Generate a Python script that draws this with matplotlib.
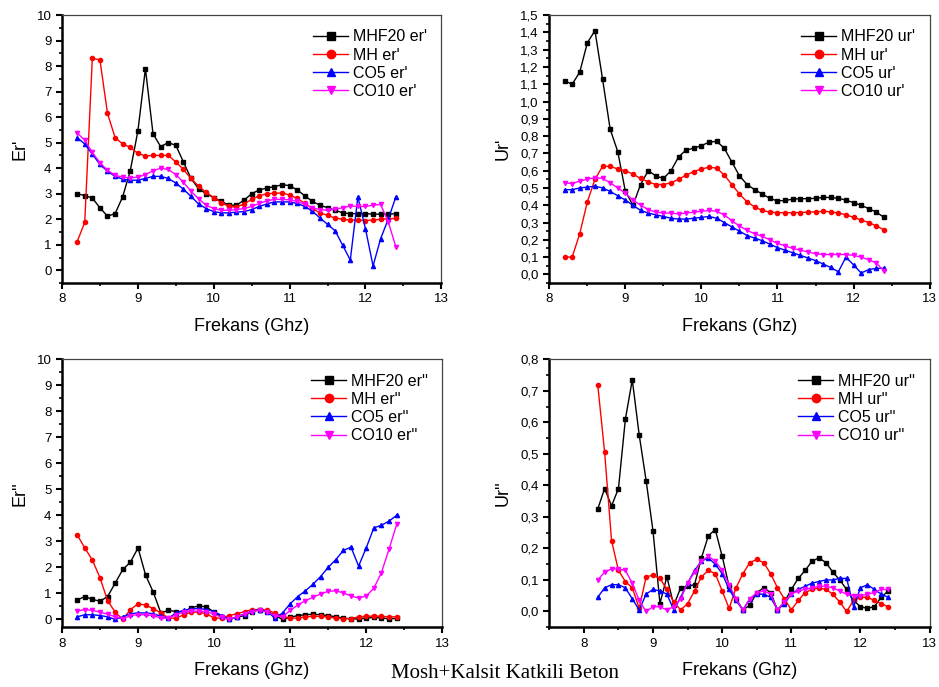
import numpy as np
import matplotlib
matplotlib.use("Agg")
from matplotlib import pyplot as plt
from matplotlib.ticker import MultipleLocator, FormatStrFormatter, FuncFormatter

plt.rcParams['font.family'] = ['Liberation Sans', 'DejaVu Sans']

freq = np.round(np.arange(8.2, 12.41, 0.1), 1)

# Er'
er1_mhf20 = [3.0, 2.93, 2.83, 2.45, 2.12, 2.22, 2.88, 3.9, 5.45, 7.9, 5.35, 4.85, 5.0, 4.9, 4.25, 3.6,
             3.2, 3.0, 2.85, 2.7, 2.55, 2.55, 2.75, 3.0, 3.15, 3.22, 3.28, 3.35, 3.32, 3.15, 2.92, 2.7,
             2.55, 2.45, 2.35, 2.25, 2.22, 2.22, 2.22, 2.2, 2.2, 2.2, 2.22]
er1_mh = [1.12, 1.88, 8.3, 8.25, 6.15, 5.2, 4.95, 4.82, 4.58, 4.48, 4.5, 4.5, 4.5, 4.25, 3.95, 3.6,
          3.3, 3.05, 2.85, 2.65, 2.5, 2.48, 2.6, 2.78, 2.92, 3.0, 3.02, 3.03, 2.95, 2.82, 2.62, 2.42,
          2.25, 2.15, 2.05, 2.0, 1.97, 1.97, 1.95, 1.97, 2.0, 2.02, 2.03]
er1_co5 = [5.2, 4.95, 4.55, 4.15, 3.88, 3.68, 3.57, 3.53, 3.53, 3.6, 3.68, 3.68, 3.6, 3.42, 3.18, 2.9,
           2.6, 2.42, 2.3, 2.25, 2.25, 2.28, 2.3, 2.38, 2.5, 2.6, 2.68, 2.68, 2.68, 2.62, 2.5, 2.32,
           2.05, 1.8, 1.55, 0.98, 0.4, 2.87, 1.63, 0.17, 1.24, 2.0, 2.87]
er1_co10 = [5.38, 5.1, 4.62, 4.22, 3.92, 3.72, 3.65, 3.62, 3.65, 3.75, 3.9, 4.0, 3.95, 3.75, 3.45, 3.1,
            2.8, 2.55, 2.42, 2.35, 2.35, 2.38, 2.42, 2.5, 2.62, 2.72, 2.78, 2.78, 2.76, 2.7, 2.58, 2.45,
            2.38, 2.35, 2.4, 2.45, 2.52, 2.5, 2.5, 2.55, 2.58, 1.9, 0.93]

# Ur'
ur1_mhf20 = [1.12, 1.10, 1.17, 1.34, 1.41, 1.13, 0.84, 0.71, 0.48, 0.40, 0.52, 0.60, 0.57, 0.555, 0.60, 0.68,
             0.72, 0.73, 0.745, 0.765, 0.77, 0.73, 0.65, 0.57, 0.52, 0.49, 0.465, 0.44, 0.425, 0.428, 0.435,
             0.438, 0.438, 0.44, 0.445, 0.445, 0.44, 0.43, 0.415, 0.40, 0.38, 0.36, 0.33]
ur1_mh = [0.10, 0.10, 0.235, 0.42, 0.55, 0.625, 0.625, 0.61, 0.60, 0.58, 0.555, 0.535, 0.52, 0.52, 0.53, 0.55,
          0.575, 0.595, 0.61, 0.62, 0.615, 0.575, 0.52, 0.465, 0.42, 0.39, 0.37, 0.36, 0.358, 0.357, 0.357,
          0.358, 0.36, 0.362, 0.365, 0.362, 0.355, 0.345, 0.33, 0.315, 0.30, 0.28, 0.258]
ur1_co5 = [0.49, 0.49, 0.50, 0.505, 0.51, 0.50, 0.48, 0.455, 0.43, 0.40, 0.37, 0.355, 0.345, 0.335, 0.325, 0.32,
           0.32, 0.325, 0.33, 0.335, 0.325, 0.30, 0.275, 0.25, 0.225, 0.21, 0.195, 0.175, 0.155, 0.14, 0.125,
           0.11, 0.095, 0.08, 0.06, 0.04, 0.015, 0.10, 0.055, 0.008, 0.028, 0.035, 0.035]
ur1_co10 = [0.53, 0.525, 0.54, 0.55, 0.56, 0.555, 0.53, 0.50, 0.47, 0.43, 0.40, 0.375, 0.36, 0.355, 0.355, 0.35,
            0.355, 0.36, 0.365, 0.37, 0.365, 0.345, 0.31, 0.28, 0.255, 0.235, 0.22, 0.20, 0.18, 0.165, 0.15,
            0.14, 0.13, 0.12, 0.115, 0.115, 0.115, 0.115, 0.11, 0.10, 0.085, 0.065, 0.02]

# Er''
er2_mhf20 = [0.75, 0.88, 0.77, 0.7, 0.88, 1.4, 1.92, 2.2, 2.75, 1.7, 1.05, 0.25, 0.35, 0.3, 0.3, 0.45,
             0.52, 0.48, 0.28, 0.1, 0.0, 0.08, 0.15, 0.3, 0.38, 0.32, 0.15, 0.0, 0.08, 0.15, 0.18, 0.2,
             0.18, 0.15, 0.1, 0.05, 0.02, 0.02, 0.05, 0.08, 0.06, 0.02, 0.04]
er2_mh = [3.25, 2.75, 2.28, 1.6, 0.72, 0.28, 0.0, 0.38, 0.6, 0.55, 0.42, 0.25, 0.05, 0.05, 0.18, 0.28,
          0.28, 0.22, 0.05, 0.05, 0.15, 0.22, 0.3, 0.38, 0.38, 0.35, 0.25, 0.12, 0.05, 0.05, 0.1, 0.12,
          0.12, 0.1, 0.05, 0.03, 0.03, 0.1, 0.12, 0.13, 0.12, 0.1, 0.1]
er2_co5 = [0.1, 0.18, 0.18, 0.15, 0.1, 0.0, 0.1, 0.22, 0.25, 0.25, 0.22, 0.12, 0.05, 0.25, 0.35, 0.4,
           0.42, 0.38, 0.3, 0.15, 0.0, 0.1, 0.22, 0.32, 0.38, 0.3, 0.05, 0.25, 0.6, 0.88, 1.1, 1.35,
           1.65, 2.0, 2.3, 2.65, 2.78, 2.05, 2.75, 3.52, 3.62, 3.78, 4.0]
er2_co10 = [0.32, 0.38, 0.35, 0.28, 0.2, 0.1, 0.02, 0.15, 0.18, 0.18, 0.15, 0.05, 0.05, 0.18, 0.28, 0.32,
            0.32, 0.3, 0.2, 0.08, 0.0, 0.1, 0.2, 0.3, 0.35, 0.28, 0.15, 0.1, 0.35, 0.55, 0.72, 0.85,
            0.98, 1.08, 1.1, 1.02, 0.9, 0.82, 0.9, 1.2, 1.8, 2.7, 3.65]

# Ur''
ur2_mhf20 = [0.325, 0.39, 0.335, 0.39, 0.61, 0.735, 0.56, 0.415, 0.255, 0.025, 0.11, 0.02, 0.075, 0.08, 0.085,
             0.17, 0.24, 0.26, 0.175, 0.08, 0.04, 0.005, 0.02, 0.06, 0.075, 0.06, 0.005, 0.03, 0.07, 0.105,
             0.13, 0.16, 0.17, 0.155, 0.125, 0.1, 0.07, 0.035, 0.015, 0.01, 0.015, 0.045, 0.065]
ur2_mh = [0.72, 0.505, 0.225, 0.13, 0.095, 0.075, 0.01, 0.11, 0.115, 0.105, 0.07, 0.03, 0.005, 0.025, 0.065,
          0.11, 0.13, 0.12, 0.065, 0.01, 0.075, 0.12, 0.155, 0.165, 0.155, 0.12, 0.075, 0.04, 0.005, 0.035,
          0.06, 0.07, 0.075, 0.07, 0.055, 0.03, 0.0, 0.035, 0.045, 0.045, 0.035, 0.025, 0.015]
ur2_co5 = [0.045, 0.075, 0.085, 0.085, 0.075, 0.04, 0.005, 0.055, 0.07, 0.065, 0.055, 0.005, 0.045, 0.09, 0.13,
           0.16, 0.17, 0.15, 0.12, 0.07, 0.035, 0.005, 0.04, 0.055, 0.055, 0.045, 0.005, 0.025, 0.055, 0.07,
           0.08, 0.09, 0.095, 0.1, 0.1, 0.105, 0.105, 0.015, 0.075, 0.085, 0.07, 0.055, 0.045]
ur2_co10 = [0.1, 0.125, 0.135, 0.135, 0.13, 0.09, 0.035, 0.0, 0.015, 0.015, 0.005, 0.015, 0.04, 0.09, 0.125,
            0.16, 0.175, 0.16, 0.13, 0.085, 0.04, 0.005, 0.04, 0.06, 0.065, 0.055, 0.005, 0.03, 0.055, 0.065,
            0.07, 0.075, 0.08, 0.08, 0.075, 0.065, 0.055, 0.05, 0.05, 0.055, 0.06, 0.07, 0.07]

names = ["MHF20", "MH", "CO5", "CO10"]
colors = ["black", "red", "blue", "magenta"]
markers = ["s", "o", "^", "v"]

panels = [
    ([er1_mhf20, er1_mh, er1_co5, er1_co10], "er'", "Er'", (-0.5, 10), 1, 0.5, False, (8, 13)),
    ([ur1_mhf20, ur1_mh, ur1_co5, ur1_co10], "ur'", "Ur'", (-0.05, 1.5), 0.1, 0.05, True, (8, 13)),
    ([er2_mhf20, er2_mh, er2_co5, er2_co10], "er''", "Er''", (-0.3, 10), 1, 0.5, False, (8, 13)),
    ([ur2_mhf20, ur2_mh, ur2_co5, ur2_co10], "ur''", "Ur''", (-0.05, 0.8), 0.1, 0.05, True, (7.5, 13)),
]
rects = [
    [0.066, 0.588, 0.404, 0.390],
    [0.585, 0.588, 0.405, 0.390],
    [0.066, 0.087, 0.405, 0.390],
    [0.585, 0.087, 0.405, 0.390],
]

comma = FuncFormatter(lambda v, p: f"{v:.1f}".replace(".", ","))

fig = plt.figure(figsize=(9.39, 6.87), dpi=100)
for rect, (series, suffix, ylab, ylim, major, minor, dec, xlim) in zip(rects, panels):
    ax = fig.add_axes(rect)
    for vals, name, c, m in zip(series, names, colors, markers):
        ax.plot(freq, vals, color=c, lw=1.0, marker=m, ms=3, label=f"{name} {suffix}")
    ax.set_xlim(*xlim)
    ax.set_ylim(*ylim)
    ax.xaxis.set_major_locator(MultipleLocator(1))
    ax.xaxis.set_minor_locator(MultipleLocator(0.5))
    ax.yaxis.set_major_locator(MultipleLocator(major))
    ax.yaxis.set_minor_locator(MultipleLocator(minor))
    if dec:
        ax.yaxis.set_major_formatter(comma)
    else:
        ax.yaxis.set_major_formatter(FormatStrFormatter("%d"))
    ax.tick_params(which="major", direction="out", length=4, width=1.5, labelsize=9.5)
    ax.tick_params(which="minor", direction="out", length=2.5, width=1.2)
    for s in ["left", "bottom"]:
        ax.spines[s].set_linewidth(1.8)
    for s in ["top", "right"]:
        ax.spines[s].set_linewidth(0.9)
        ax.spines[s].set_color("#444444")
    ax.set_xlabel("Frekans (Ghz)", fontsize=13, labelpad=9)
    ax.set_ylabel(ylab, fontsize=13, labelpad=6)
    ax.legend(loc="upper right", bbox_to_anchor=(1.0, 1.0), frameon=False, fontsize=11.5,
              markerscale=2, handlelength=2.2, handletextpad=0.3, labelspacing=0.2)

fig.text(0.538, 0.02, "Mosh+Kalsit Katkili Beton", family="Liberation Serif", fontsize=15,
         ha="center", va="center")

fig.savefig("out.png", dpi=100)
